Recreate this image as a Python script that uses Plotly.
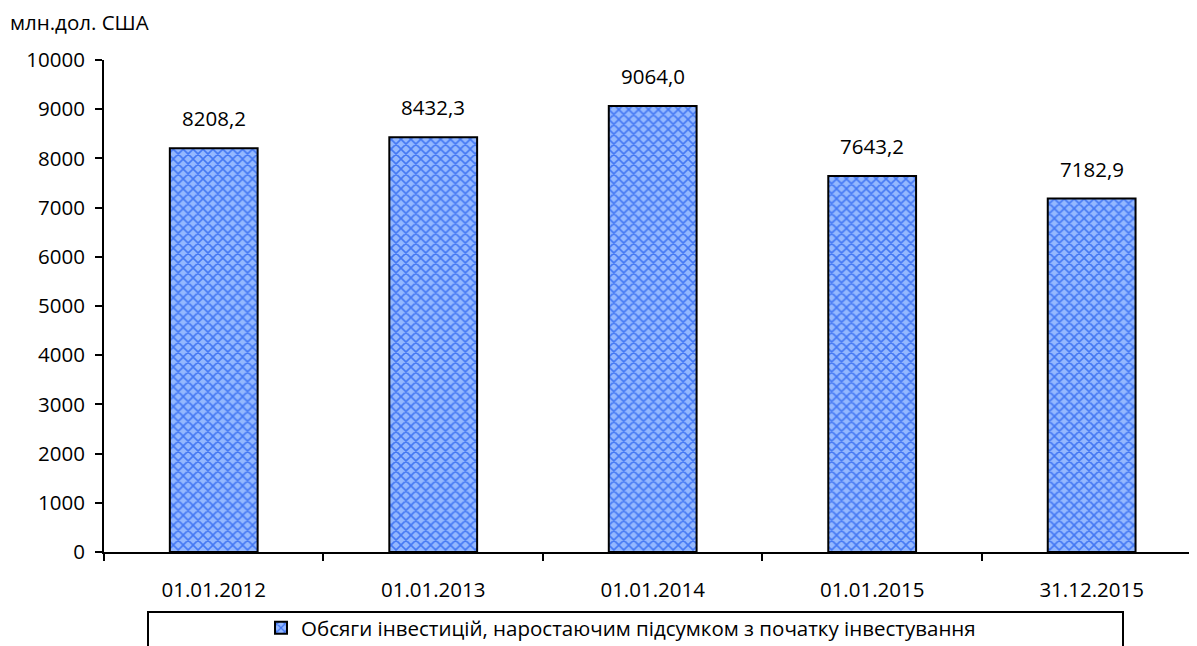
import plotly.graph_objects as go

categories = ["01.01.2012", "01.01.2013", "01.01.2014", "01.01.2015", "31.12.2015"]
values = [8208.2, 8432.3, 9064.0, 7643.2, 7182.9]
value_labels = ["8208,2", "8432,3", "9064,0", "7643,2", "7182,9"]
series_name = "Обсяги інвестицій, наростаючим підсумком з початку інвестування"
y_ticks = [0, 1000, 2000, 3000, 4000, 5000, 6000, 7000, 8000, 9000, 10000]
y_tick_text = ["0", "1000", "2000", "3000", "4000", "5000", "6000", "7000", "8000", "9000", "10000"]
unit_label = "млн.дол. США"

FONT = "Open Sans"
FS = 20.5

# page body has an 8px margin; plot area in screenshot: x 104..1197, y 60..552
PX0, PY0, PW, PH = 104, 60, 1093, 492
PYB = PY0 + PH

fig = go.Figure()
fig.add_trace(go.Bar(
    x=categories, y=values, name=series_name,
    marker=dict(
        color="#739FFF",
        line=dict(color="black", width=2),
        pattern=dict(shape="x", fgcolor="#4377F3", bgcolor="#94B8FF", size=7, solidity=0.4, fillmode="replace"),
    ),
    showlegend=True,
))

for c, v, t in zip(categories, values, value_labels):
    fig.add_annotation(x=c, y=v, text=t, showarrow=False, yshift=30,
                       font=dict(family=FONT, size=FS, color="black"))

fig.add_annotation(xref="paper", yref="paper", x=(8 - PX0) / PW, y=(PYB - 22) / PH,
                   xanchor="left", yanchor="middle", text=unit_label, showarrow=False,
                   font=dict(family=FONT, size=FS, color="black"))

# legend frame
fig.add_shape(type="rect", xref="paper", yref="paper",
              x0=(148 - PX0) / PW, x1=(1123 - PX0) / PW,
              y0=(PYB - 612) / PH, y1=(PYB - 660) / PH,
              line=dict(color="black", width=2), fillcolor="rgba(0,0,0,0)")

fig.update_layout(
    width=1189, height=638,
    margin=dict(l=PX0 - 8, r=0, t=PY0 - 8, b=638 - (PY0 - 8) - PH, autoexpand=False),
    paper_bgcolor="white", plot_bgcolor="white",
    bargap=0.6,
    font=dict(family=FONT, size=FS, color="black"),
    legend=dict(orientation="h", x=(261 - PX0) / PW, xanchor="left",
                y=(PYB - 628) / PH, yanchor="middle",
                bgcolor="rgba(0,0,0,0)", borderwidth=0,
                font=dict(family=FONT, size=FS, color="black"),
                itemsizing="constant"),
    xaxis=dict(range=[-0.5, 4.48], showline=True, linecolor="black", linewidth=2,
               ticks="outside", tickson="boundaries", ticklen=7, tickwidth=2, tickcolor="black",
               ticklabelstandoff=18, showgrid=False, zeroline=False, automargin=False,
               tickfont=dict(family=FONT, size=FS)),
    yaxis=dict(range=[0, 10000], tickvals=y_ticks, ticktext=y_tick_text, showline=True,
               linecolor="black", linewidth=2,
               ticks="outside", ticklen=7, tickwidth=2, tickcolor="black",
               ticklabelstandoff=6, showgrid=False, zeroline=False, automargin=False,
               tickfont=dict(family=FONT, size=FS)),
)

fig.write_html("out.html")
